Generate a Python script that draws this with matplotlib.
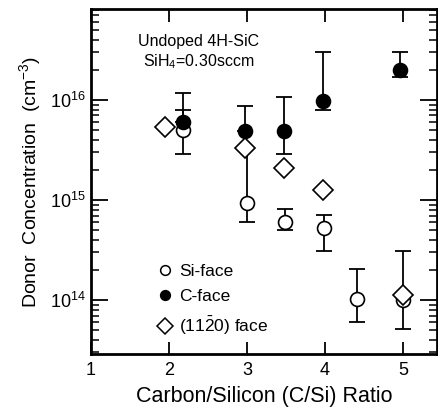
import matplotlib
matplotlib.use("Agg")
import matplotlib.pyplot as plt
from matplotlib.ticker import LogLocator, FixedLocator, NullFormatter

plt.rcParams['font.family'] = ['Liberation Sans', 'DejaVu Sans']
plt.rcParams['mathtext.fontset'] = 'custom'
plt.rcParams['mathtext.rm'] = 'Liberation Sans'
plt.rcParams['mathtext.it'] = 'Liberation Sans:italic'

# Si-face (open circles)
si_x = [2.18, 3.0, 3.49, 3.99, 4.41, 5.0]
si_y = [5.0e15, 9.3e14, 6.0e14, 5.2e14, 1.02e14, 1.0e14]
si_lo = [2.9e15, 6.0e14, 5.0e14, 3.1e14, 6.0e13, 5.1e13]
si_hi = [7.9e15, 3.3e15, 8.1e14, 7.1e14, 2.04e14, 3.1e14]

# C-face (filled circles)
c_x = [2.18, 2.97, 3.47, 3.97, 4.97]
c_y = [6.0e15, 4.9e15, 4.9e15, 9.8e15, 2.0e16]
c_lo = [6.0e15, 4.9e15, 2.9e15, 8.0e15, 1.7e16]
c_hi = [1.17e16, 8.7e15, 1.07e16, 3.0e16, 3.0e16]

# (11-20) face (diamonds)
d_x = [1.95, 2.97, 3.47, 3.97, 5.0]
d_y = [5.4e15, 3.3e15, 2.1e15, 1.25e15, 1.12e14]

fig = plt.figure(figsize=(4.38, 4.11), dpi=100)
ax = fig.add_axes([0.208, 0.139, 0.79, 0.839])

def errs(y, lo, hi):
    return [[v - l for v, l in zip(y, lo)], [h - v for v, h in zip(y, hi)]]

ax.errorbar(si_x, si_y, yerr=errs(si_y, si_lo, si_hi), fmt='none', ecolor='black',
            elinewidth=1.3, capsize=6, capthick=1.3, zorder=2)
ax.errorbar(c_x, c_y, yerr=errs(c_y, c_lo, c_hi), fmt='none', ecolor='black',
            elinewidth=1.3, capsize=6, capthick=1.3, zorder=2)

ax.plot(si_x, si_y, 'o', ms=10, mfc='white', mec='black', mew=1.2, zorder=3)
ax.plot(c_x, c_y, 'o', ms=10, mfc='black', mec='black', mew=1.2, zorder=4)
ax.plot(d_x, d_y, 'D', ms=10, mfc='white', mec='black', mew=1.2, zorder=5)

ax.set_yscale('log')
ax.set_xlim(1, 5.44)
ax.set_ylim(2.9e13, 8.1e16)

ax.xaxis.set_major_locator(FixedLocator([1, 2, 3, 4, 5]))
ax.yaxis.set_major_locator(LogLocator(base=10, numticks=10))
ax.yaxis.set_minor_locator(LogLocator(base=10, subs=range(2, 10), numticks=20))
ax.yaxis.set_minor_formatter(NullFormatter())

ax.tick_params(axis='both', which='major', direction='in', length=9, width=1.3,
               labelsize=13, top=True, right=True, pad=6)
ax.tick_params(axis='y', which='major', length=12, pad=4)
ax.tick_params(axis='y', which='minor', direction='in', length=6, width=1.1,
               left=True, right=True)
for s in ax.spines.values():
    s.set_linewidth(2)

ax.set_xlabel('Carbon/Silicon (C/Si) Ratio', fontsize=15.5, labelpad=5)
ax.set_ylabel('Donor  Concentration  (cm$^{-3}$)', fontsize=14, labelpad=5)

ax.text(0.31, 0.875, 'Undoped 4H-SiC\nSiH$_4$=0.30sccm', transform=ax.transAxes,
        ha='center', va='center', fontsize=11.5, linespacing=1.25)

h1, = ax.plot([], [], 'o', ms=7, mfc='white', mec='black', mew=1.1)
h2, = ax.plot([], [], 'o', ms=7, mfc='black', mec='black', mew=1.1)
h3, = ax.plot([], [], 'D', ms=8, mfc='white', mec='black', mew=1.1)
ax.legend([h1, h2, h3], ['Si-face', 'C-face', r'(11$\bar{2}$0) face'],
          loc='lower left', bbox_to_anchor=(0.14, 0.004), frameon=False,
          fontsize=12.5, handletextpad=0.3, labelspacing=0.6, handlelength=1.1)

fig.savefig('out.png', dpi=100)
